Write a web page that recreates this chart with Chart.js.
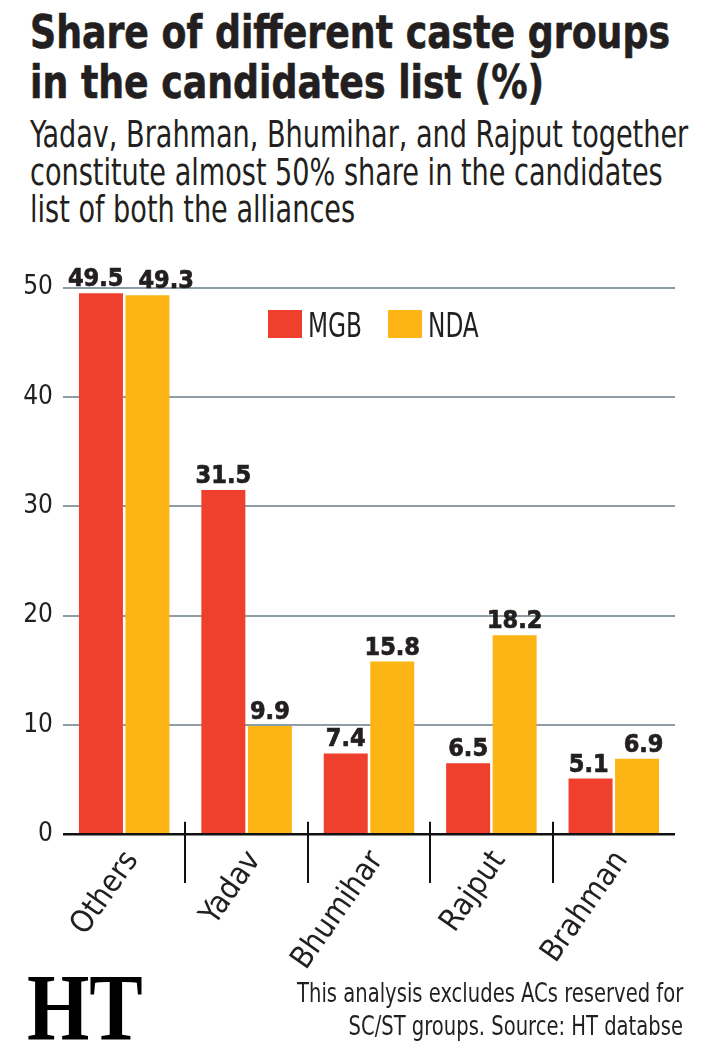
<!DOCTYPE html>
<html><head><meta charset="utf-8">
<script src="https://cdn.jsdelivr.net/npm/chart.js@4.4.1/dist/chart.umd.min.js"></script>
<style>
html,body{margin:0;padding:0;background:#fff;}
body{width:706px;height:1061px;position:relative;overflow:hidden;color:#231f20;
 font-family:'Liberation Sans Narrow','DejaVu Sans Condensed','Liberation Sans',sans-serif;}
.ln{position:absolute;white-space:nowrap;line-height:1;}
.t{font-weight:700;font-size:46px;left:30px;transform-origin:0 0;-webkit-text-stroke:0.6px #231f20;}
.s{font-weight:400;font-size:38px;left:30px;transform-origin:0 0;}
.f{font-weight:400;font-size:27px;right:23px;transform-origin:100% 0;}
.logo{font-family:'Liberation Serif','DejaVu Serif',serif;font-weight:700;font-size:96px;left:27px;transform-origin:0 0;color:#000;}
#wrap{position:absolute;left:0;top:240px;width:706px;height:821px;}
</style></head>
<body>
<div class="ln t" data-base="48" data-w="640" data-grp="t">Share of different caste groups</div>
<div class="ln t" data-base="98" data-grp="t">in the candidates list (%)</div>
<div class="ln s" data-base="147" data-w="658" data-grp="s">Yadav, Brahman, Bhumihar, and Rajput together</div>
<div class="ln s" data-base="185" data-grp="s">constitute almost 50% share in the candidates</div>
<div class="ln s" data-base="222" data-grp="s">list of both the alliances</div>
<div id="wrap"><canvas id="c" width="706" height="821"></canvas></div>
<div class="ln logo" data-base="1040" data-w="116" data-grp="l">HT</div>
<div class="ln f" data-base="1002" data-w="386" data-grp="f">This analysis excludes ACs reserved for</div>
<div class="ln f" data-base="1035" data-grp="f">SC/ST groups. Source: HT databse</div>
<script>
// ---- data ----
const categories = ['Others', 'Yadav', 'Bhumihar', 'Rajput', 'Brahman'];
const seriesNames = ['MGB', 'NDA'];
const mgbValues = [49.5, 31.5, 7.4, 6.5, 5.1];
const ndaValues = [49.3, 9.9, 15.8, 18.2, 6.9];
const yTickValues = [0, 10, 20, 30, 40, 50];

// ---- text fitting (horizontal scale to match reference widths, baseline placement) ----
(function(){
  const scales = {};
  document.querySelectorAll('.ln').forEach(el => {
    const g = el.dataset.grp;
    if (el.dataset.w) { scales[g] = parseFloat(el.dataset.w) / el.offsetWidth; }
  });
  document.querySelectorAll('.ln').forEach(el => {
    const probe = document.createElement('span');
    probe.style.cssText = 'display:inline-block;width:0;height:0;vertical-align:baseline;';
    el.appendChild(probe);
    const off = probe.getBoundingClientRect().top - el.getBoundingClientRect().top;
    el.removeChild(probe);
    el.style.top = (parseFloat(el.dataset.base) - off) + 'px';
    const k = scales[el.dataset.grp] || 1;
    el.style.transform = 'scaleX(' + k + ')';
  });
})();

// ---- chart ----
const RED = '#ee402d', YEL = '#fdb515', INK = '#231f20', GRID = '#8e9ca6';
const FONT = "'Liberation Sans Narrow','DejaVu Sans Condensed','Liberation Sans',sans-serif";
const BOLDFONT = "'DejaVu Sans Condensed','DejaVu Sans','Liberation Sans',sans-serif";

const separators = {
  id: 'separators',
  afterDraw(chart) {
    const xs = chart.scales.x, y0 = chart.scales.y.getPixelForValue(0);
    const c = chart.ctx; c.save();
    c.strokeStyle = '#111'; c.lineWidth = 2;
    for (let i = 1; i < categories.length; i++) {
      const x = Math.round((xs.getPixelForValue(i - 1) + xs.getPixelForValue(i)) / 2);
      c.beginPath(); c.moveTo(x, y0 - 12.6); c.lineTo(x, y0 + 48.7); c.stroke();
    }
    c.restore();
  }
};
const valueLabels = {
  id: 'valueLabels',
  afterDatasetsDraw(chart) {
    const c = chart.ctx; c.save();
    c.font = 'bold 25px ' + BOLDFONT; c.fillStyle = INK; c.strokeStyle = INK; c.lineWidth = 0.7;
    c.textAlign = 'center'; c.textBaseline = 'alphabetic';
    const m0 = chart.getDatasetMeta(0).data, m1 = chart.getDatasetMeta(1).data;
    const d0 = chart.data.datasets[0].data, d1 = chart.data.datasets[1].data;
    for (let i = 0; i < categories.length; i++) {
      const t0 = d0[i].toFixed(1), t1 = d1[i].toFixed(1);
      let x0 = m0[i].x, x1 = m1[i].x;
      const y0 = m0[i].y - 7, y1 = m1[i].y - 7;
      // push labels apart when they would collide at nearly the same height
      if (Math.abs(y0 - y1) < 22) {
        const need = (c.measureText(t0).width + c.measureText(t1).width) / 2 + 15 - (x1 - x0);
        if (need > 0) { x0 -= need * 0.22; x1 += need * 0.78; }
      }
      c.fillText(t0, x0, y0); c.strokeText(t0, x0, y0);
      c.fillText(t1, x1, y1); c.strokeText(t1, x1, y1);
    }
    c.restore();
  }
};
const inLegend = {
  id: 'inLegend',
  afterDraw(chart) {
    const c = chart.ctx, a = chart.chartArea; c.save();
    c.font = '34px ' + FONT; c.textBaseline = 'alphabetic'; c.textAlign = 'left';
    const sx = 0.76;
    let x = a.left + 205; const top = a.top + 22.3;
    chart.data.datasets.forEach(ds => {
      c.fillStyle = ds.backgroundColor; c.fillRect(x, top, 34, 28);
      x += 40; c.fillStyle = INK;
      c.save(); c.translate(x, top + 27); c.scale(sx, 1); c.fillText(ds.label, 0, 0); c.restore();
      x += c.measureText(ds.label).width * sx + 26;
    });
    c.restore();
  }
};

new Chart(document.getElementById('c'), {
  type: 'bar',
  data: {
    labels: categories,
    datasets: [
      { label: seriesNames[0], data: mgbValues, backgroundColor: RED, categoryPercentage: 0.76, barPercentage: 0.946 },
      { label: seriesNames[1], data: ndaValues, backgroundColor: YEL, categoryPercentage: 0.76, barPercentage: 0.946 }
    ]
  },
  options: {
    responsive: false, animation: false, devicePixelRatio: 1,
    layout: { padding: { top: 47.7, right: 31, left: 0, bottom: 0 } },
    plugins: { legend: { display: false }, tooltip: { enabled: false } },
    scales: {
      x: {
        grid: { display: false, drawTicks: false }, border: { display: false },
        ticks: { color: INK, font: { family: FONT, size: 31 }, minRotation: 55, maxRotation: 55, padding: 10, labelOffset: 8 },
        afterFit(s) { s.height = 226.7; }
      },
      y: {
        min: 0, max: 50,
        afterBuildTicks(s) { s.ticks = yTickValues.map(v => ({ value: v })); },
        grid: {
          color: c => (c.tick && c.tick.value === 0) ? '#111' : GRID,
          lineWidth: c => (c.tick && c.tick.value === 0) ? 2.5 : 2,
          drawTicks: false
        },
        border: { display: false },
        ticks: { color: INK, font: { family: FONT, size: 26 }, padding: 10 },
        afterFit(s) { s.width = 63; }
      }
    }
  },
  plugins: [separators, valueLabels, inLegend]
});
</script>
</body></html>
